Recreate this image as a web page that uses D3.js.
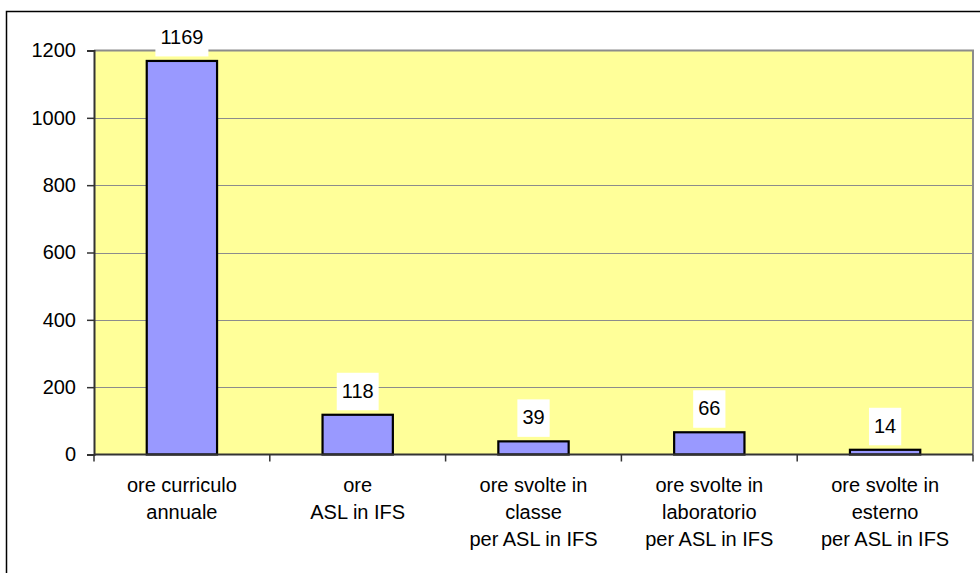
<!DOCTYPE html>
<html>
<head>
<meta charset="utf-8">
<script src="https://cdn.jsdelivr.net/npm/d3@7"></script>
<style>
  body { margin: 0; background: #fff; }
  svg { display: block; font-family: "Liberation Sans", Arial, sans-serif; }
</style>
</head>
<body>
<div id="chart"></div>
<script>
// categories (multi-line labels) and values
var categories = ["c1", "c2", "c3", "c4", "c5"];
var categoryLabels = [
  ["ore curriculo", "annuale"],
  ["ore", "ASL in IFS"],
  ["ore svolte in", "classe", "per ASL in IFS"],
  ["ore svolte in", "laboratorio", "per ASL in IFS"],
  ["ore svolte in", "esterno", "per ASL in IFS"]
];
var values = [1169, 118, 39, 66, 14];
var yTicks = [0, 200, 400, 600, 800, 1000, 1200];

var width = 980, height = 573;
var plot = {left: 94, right: 973, top: 50.5, bottom: 454.5};

var svg = d3.select("#chart")
    .append("svg")
    .attr("width", width)
    .attr("height", height);

// outer frame
svg.append("rect")
    .attr("x", 6.5)
    .attr("y", 11.5)
    .attr("width", width)
    .attr("height", height)
    .attr("fill", "#fff")
    .attr("stroke", "#000")
    .attr("stroke-width", 1.5);

var x = d3.scaleBand()
    .domain(categories)
    .range([plot.left, plot.right])
    .padding(0);

var y = d3.scaleLinear()
    .domain([0, 1200])
    .range([plot.bottom, plot.top]);

// plot area background
svg.append("rect")
    .attr("x", plot.left)
    .attr("y", plot.top)
    .attr("width", plot.right - plot.left)
    .attr("height", plot.bottom - plot.top)
    .attr("fill", "#ffff99");

// gridlines
svg.append("g")
    .selectAll("line")
    .data(yTicks.slice(1, -1))
    .enter().append("line")
    .attr("x1", plot.left)
    .attr("x2", plot.right)
    .attr("y1", function(d) { return Math.round(y(d)) + 0.5; })
    .attr("y2", function(d) { return Math.round(y(d)) + 0.5; })
    .attr("stroke", "#8c8c8c")
    .attr("stroke-width", 1);

// plot border top / right
svg.append("path")
    .attr("d", "M" + plot.left + "," + plot.top + "H" + plot.right + "V" + plot.bottom)
    .attr("fill", "none")
    .attr("stroke", "#8c8c8c")
    .attr("stroke-width", 2);

// bars
svg.append("g")
    .selectAll("rect")
    .data(values)
    .enter().append("rect")
    .attr("x", function(d, i) { return x(categories[i]) + x.bandwidth() * 0.3; })
    .attr("y", function(d) { return y(d); })
    .attr("width", x.bandwidth() * 0.4)
    .attr("height", function(d) { return plot.bottom - y(d); })
    .attr("fill", "#9999ff")
    .attr("stroke", "#000")
    .attr("stroke-width", 2.2);

// y axis
var yAxis = svg.append("g")
    .attr("transform", "translate(" + plot.left + ",0)")
    .call(d3.axisLeft(y).tickValues(yTicks).tickSize(7).tickPadding(11).tickFormat(d3.format("d")));
yAxis.select(".domain").attr("stroke", "#333").attr("stroke-width", 2);
yAxis.selectAll(".tick line").attr("stroke", "#333").attr("stroke-width", 1.5);
yAxis.selectAll(".tick text")
    .attr("font-size", 20)
    .attr("font-family", "Liberation Sans, Arial, sans-serif")
    .attr("fill", "#000");

// x axis with ticks at category boundaries
var xAxisG = svg.append("g")
    .attr("transform", "translate(0," + plot.bottom + ")");
xAxisG.append("line")
    .attr("x1", plot.left)
    .attr("x2", plot.right)
    .attr("stroke", "#333")
    .attr("stroke-width", 2);
var bounds = categories.map(function(c) { return x(c); }).concat([plot.right]);
xAxisG.selectAll(".xt")
    .data(bounds)
    .enter().append("line")
    .attr("class", "xt")
    .attr("x1", function(d) { return d; })
    .attr("x2", function(d) { return d; })
    .attr("y1", 0)
    .attr("y2", 7)
    .attr("stroke", "#333")
    .attr("stroke-width", 1.5);

// category labels
var catText = xAxisG.selectAll(".cat")
    .data(categoryLabels)
    .enter().append("text")
    .attr("class", "cat")
    .attr("text-anchor", "middle")
    .attr("font-size", 20)
    .attr("fill", "#000")
    .attr("x", function(d, i) { return x(categories[i]) + x.bandwidth() / 2; })
    .attr("y", 37);
catText.selectAll("tspan")
    .data(function(d) { return d; })
    .enter().append("tspan")
    .attr("x", function() { return d3.select(this.parentNode).attr("x"); })
    .attr("dy", function(d, i) { return i === 0 ? 0 : 27; })
    .text(function(d) { return d; });

// data labels with white boxes
var labels = svg.append("g")
    .selectAll("g")
    .data(values)
    .enter().append("g")
    .attr("transform", function(d, i) {
      return "translate(" + (x(categories[i]) + x.bandwidth() / 2) + "," + (y(d) - 17) + ")";
    });
labels.append("rect").attr("fill", "#fff");
labels.append("text")
    .attr("text-anchor", "middle")
    .attr("font-size", 20)
    .attr("fill", "#000")
    .text(function(d) { return d; });
labels.each(function() {
  var g = d3.select(this);
  var bb = g.select("text").node().getBBox();
  g.select("rect")
    .attr("x", bb.x - 5)
    .attr("y", -25)
    .attr("width", bb.width + 10)
    .attr("height", 37.5);
});
</script>
</body>
</html>
